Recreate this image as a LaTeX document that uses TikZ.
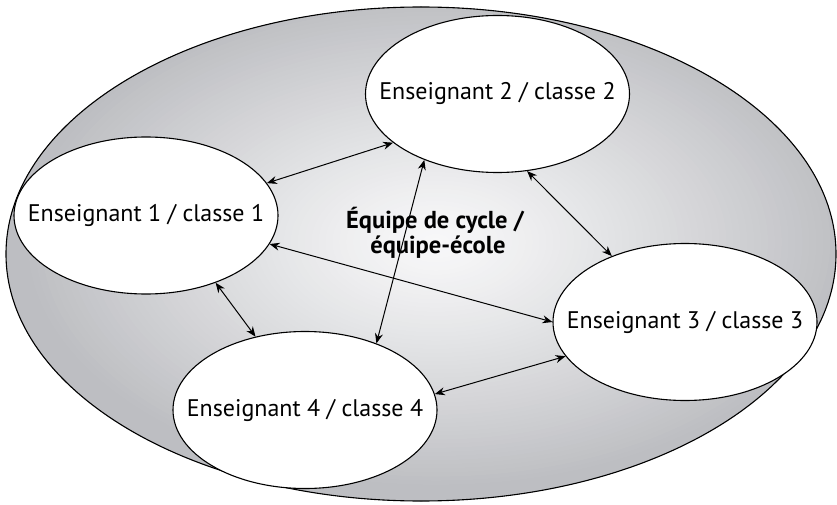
\documentclass[tikz,border=0pt]{standalone}
\usepackage{fontspec}
\setmainfont{PT Sans}
\usetikzlibrary{shapes.geometric,arrows.meta}

\definecolor{shadein}{RGB}{248,248,249}
\definecolor{shadeout}{RGB}{189,190,194}

\tikzset{
  classe/.style={ellipse, draw=black, line width=1.1pt, fill=white,
    minimum width=264pt, minimum height=157pt, inner sep=0pt,
    font=\fontsize{24}{26}\selectfont},
  lien/.style={line width=1pt, {Stealth[length=10pt,width=8pt]}-{Stealth[length=10pt,width=8pt]}},
  titre/.style={anchor=base, font=\bfseries\fontsize{24.5}{26}\selectfont},
}
% label of fixed-size ellipse: zero-width box keeps the shape at its minimum size
\newcommand{\etiquette}[1]{\makebox[0pt]{#1}}

\begin{document}
\begin{tikzpicture}[x=1pt,y=1pt]
\useasboundingbox (0,0) rectangle (837,504);

% outer school-team ellipse, lit from the middle
\node[ellipse, minimum width=830pt, minimum height=494pt, inner sep=0pt] (equipe) at (421,250) {};
\begin{scope}
  \clip (421,250) ellipse [x radius=415pt, y radius=247pt];
  \foreach \i in {70,...,1}{
    \pgfmathsetmacro\p{min(100,100*(\i/60)^1.2)}
    \pgfmathsetmacro\rx{\i*6.9167}
    \pgfmathsetmacro\ry{\i*4.1167}
    \fill[shadeout!\p!shadein] (436,262) ellipse [x radius=\rx pt, y radius=\ry pt];
  }
\end{scope}
\draw[line width=1.1pt] (421,250) ellipse [x radius=415pt, y radius=247pt];

% the four classes
\node[classe] (e1) at (146,288.5) {\etiquette{Enseignant 1 / classe 1}};
\node[classe] (e2) at (497.5,410) {\etiquette{Enseignant 2 / classe 2}};
\node[classe] (e3) at (685,182)   {\etiquette{Enseignant 3 / classe 3}};
\node[classe] (e4) at (305,94)    {\etiquette{Enseignant 4 / classe 4}};

% exchanges between classes
\draw[lien] (e1.15)  -- (e2.205);
\draw[lien] (e1.-13.6) -- (e3.180);
\draw[lien] (e1.-44.4) -- (e4.124.7);
\draw[lien] (e2.222.8) -- (e4.43);
\draw[lien] (e2.-69.5) -- (e3.138.1);
\draw[lien] (e4.7.3) -- (e3.196);

% team label
\node[titre] (titre1) at (435,276) {Équipe de cycle /};
\node[titre] (titre2) at (438,251) {équipe-école};
\end{tikzpicture}
\end{document}
